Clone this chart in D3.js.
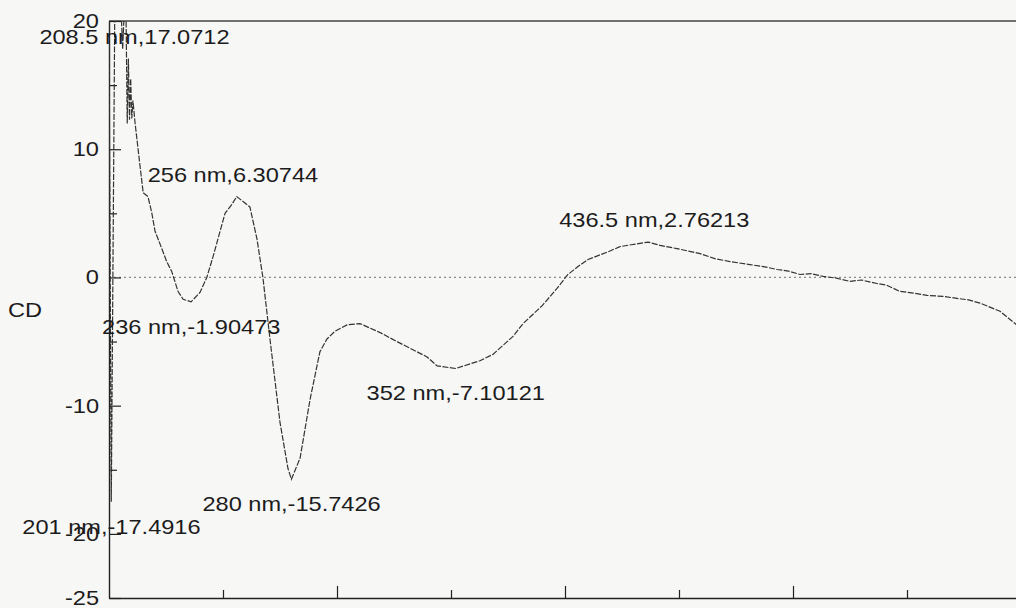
<!DOCTYPE html>
<html>
<head>
<meta charset="utf-8">
<script src="https://cdn.jsdelivr.net/npm/d3@7"></script>
<style>
  html, body { margin: 0; padding: 0; background: #f7f7f6; }
  svg { display: block; }
  text { font-family: "Liberation Sans", Arial, sans-serif; fill: #1c1c1c; }
</style>
</head>
<body>
<svg id="chart" width="1016" height="608"></svg>
<script>
// ---- data (wavelength nm, CD mdeg) ----
const wavelengths = [200, 201, 202.5, 205.5, 206, 206.5, 207.5, 208, 208.5, 209, 209.5, 210, 210.5, 211.4,
  213.6, 215, 217.1, 218.7, 220.2, 222.4, 225.3, 227.5, 230.3, 232.5, 236, 239.9, 242.9,
  245.6, 250.9, 253.9, 256, 261.8, 264.9, 267.5, 270.6, 275, 278.5, 280, 283.8, 288.2, 292.5,
  295.6, 299.1, 304.4, 310.1, 318.9, 326.3, 339.5, 343.9, 352, 362.7, 368.4, 377.2, 381.6,
  390, 396.5, 401.3, 405.7, 410.1, 418.9, 424.1, 429, 436.5, 441.7, 449.1, 459.2, 466, 472.4,
  481.1, 487, 493, 498, 503.1, 508, 513.2, 519, 525, 530, 536.8, 541, 546.9, 552, 558.8,
  565.8, 571.9, 577, 582, 590.8, 597.8, 600];
const cdValues = [20, -17.49, 20, 20, 17.8, 20, 20, 12, 17.07, 12.3, 15.5, 12.4, 13.8, 12.1,
  8.7, 6.6, 6.3, 5.1, 3.6, 2.6, 1.24, 0.47, -1.1, -1.7, -1.90, -1.17, 0,
  1.6, 5.0, 5.7, 6.31, 5.5, 3.0, 0, -4.8, -11.3, -14.9, -15.74, -14.1, -9.5, -5.8,
  -4.8, -4.2, -3.7, -3.6, -4.3, -5.0, -6.2, -6.9, -7.10, -6.5, -6.0, -4.6, -3.6,
  -2.2, -0.85, 0.23, 0.85, 1.4, 2.0, 2.4, 2.55, 2.76, 2.5, 2.25, 1.86, 1.45, 1.24,
  1.0, 0.85, 0.62, 0.5, 0.23, 0.3, 0.08, -0.05, -0.31, -0.2, -0.47, -0.6, -1.09, -1.2, -1.4,
  -1.48, -1.63, -1.75, -2.0, -2.64, -3.65, -4.0];

// peak annotations
const peakNm    = [208.5, 256, 236, 280, 352, 436.5, 201];
const peakCD    = [17.0712, 6.30744, -1.90473, -15.7426, -7.10121, 2.76213, -17.4916];
const peakKind  = ["max", "max", "min", "min", "min", "max", "min"];

const yMajorTicks = [20, 10, 0, -10, -20, -25];
const yMinorTicks = [15, 5, -5, -15];
const xMajorTicks = [300, 400, 500];
const xMinorTicks = [250, 350, 450, 550];
const yTitle = "CD";

// ---- layout ----
const svg = d3.select("#chart");
const pLeft = 109, pRight = 1021, pTop = 21, pBottom = 598;
const TX = 1.18; // horizontal stretch of the scanned lettering

const x = d3.scaleLinear().domain([200, 600]).range([pLeft, pRight]);
const y = d3.scaleLinear().domain([-25, 20]).range([pBottom, pTop]);

svg.append("defs").append("clipPath").attr("id", "plotclip")
  .append("rect").attr("x", pLeft).attr("y", pTop).attr("width", pRight - pLeft).attr("height", pBottom - pTop);

// zero line (dotted)
svg.append("line")
  .attr("x1", pLeft).attr("x2", pRight).attr("y1", y(0)).attr("y2", y(0))
  .attr("stroke", "#8a8a8a").attr("stroke-width", 1.2).attr("stroke-dasharray", "2,3");

// top frame
svg.append("line")
  .attr("x1", pLeft).attr("x2", pRight).attr("y1", pTop).attr("y2", pTop)
  .attr("stroke", "#444").attr("stroke-width", 1.4);

// y axis: major ticks with labels
const yAxis = svg.append("g").attr("transform", `translate(${pLeft},0)`)
  .call(d3.axisLeft(y).tickValues(yMajorTicks).tickSizeInner(-12).tickSizeOuter(0).tickPadding(10)
    .tickFormat(d => String(d)));
yAxis.select(".domain").attr("stroke", "#222").attr("stroke-width", 1.4);
yAxis.selectAll(".tick line").attr("stroke", "#222").attr("stroke-width", 1.2);
yAxis.selectAll(".tick text")
  .style("font-family", '"Liberation Sans", Arial, sans-serif')
  .attr("font-size", 20).attr("fill", "#1c1c1c")
  .attr("transform", `scale(${TX},1)`)
  .attr("x", -10 / TX);
// minor y ticks
svg.append("g").attr("transform", `translate(${pLeft},0)`)
  .call(d3.axisLeft(y).tickValues(yMinorTicks).tickSizeInner(-8).tickSizeOuter(0).tickFormat(""))
  .call(g => g.select(".domain").remove())
  .selectAll(".tick line").attr("stroke", "#222").attr("stroke-width", 1.2);

// x axis (bottom)
const xAxis = svg.append("g").attr("transform", `translate(0,${pBottom})`)
  .call(d3.axisBottom(x).tickValues(xMajorTicks).tickSizeInner(-12).tickSizeOuter(0).tickFormat(""));
xAxis.select(".domain").attr("stroke", "#222").attr("stroke-width", 1.6);
xAxis.selectAll(".tick line").attr("stroke", "#222").attr("stroke-width", 1.2);
svg.append("g").attr("transform", `translate(0,${pBottom})`)
  .call(d3.axisBottom(x).tickValues(xMinorTicks).tickSizeInner(-8).tickSizeOuter(0).tickFormat(""))
  .call(g => g.select(".domain").remove())
  .selectAll(".tick line").attr("stroke", "#222").attr("stroke-width", 1.2);

// spectrum
const pts = wavelengths.map((w, i) => [w, cdValues[i]]);
svg.append("path")
  .datum(pts)
  .attr("clip-path", "url(#plotclip)")
  .attr("fill", "none")
  .attr("stroke", "#333")
  .attr("stroke-width", 1.2)
  .attr("stroke-dasharray", "6,1.5")
  .attr("d", d3.line().x(d => x(d[0])).y(d => y(d[1])));

// y title
svg.append("text")
  .attr("transform", `translate(8,${y(-2.5)}) scale(${TX},1)`)
  .attr("dy", "0.35em")
  .attr("font-size", 20)
  .text(yTitle);

// peak labels
svg.append("g").selectAll("text")
  .data(peakNm.map((w, i) => ({ w, v: peakCD[i], kind: peakKind[i] })))
  .join("text")
  .attr("transform", d => `translate(${x(d.w) - 89},${y(d.v) + (d.kind === "max" ? -15 : 32)}) scale(${TX},1)`)
  .attr("font-size", 20)
  .text(d => `${d.w} nm,${d.v}`);
</script>
</body>
</html>
